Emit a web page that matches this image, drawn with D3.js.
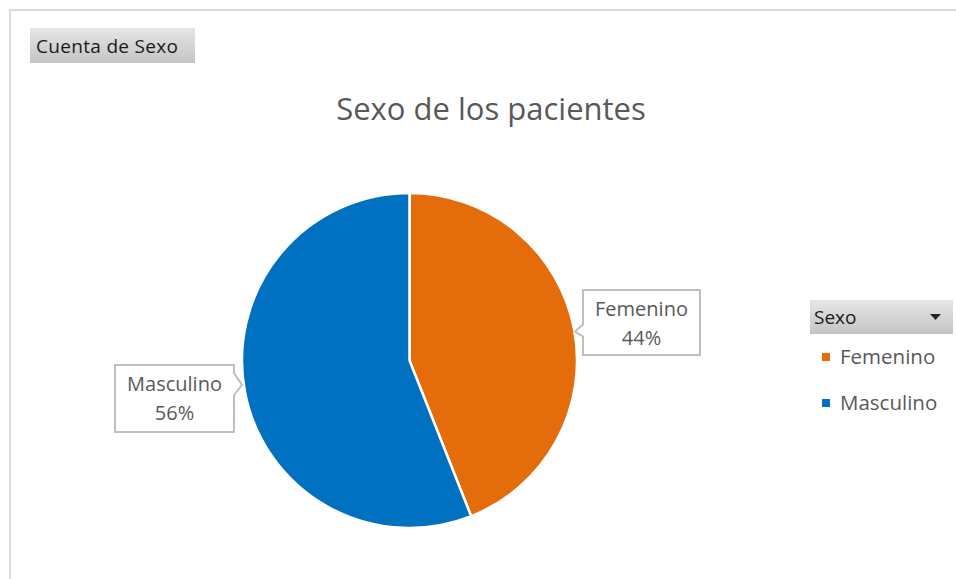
<!DOCTYPE html>
<html lang="es">
<head>
<meta charset="UTF-8">
<title>Sexo de los pacientes</title>
<style>
    body { margin: 0; padding: 0; background: #fff; }
    svg text { font-family: "Open Sans", "Noto Sans", sans-serif; }
</style>
</head>
<body>
<svg width="956" height="579"></svg>
<script src="https://cdn.jsdelivr.net/npm/d3@7"></script>
<script>
    // data
    const categories = ["Femenino", "Masculino"];
    const counts = [44, 56];
    const colors = ["#E46C0A", "#0070C0"];
    const chartTitle = "Sexo de los pacientes";
    const fieldButton = "Cuenta de Sexo";
    const legendTitle = "Sexo";

    const svg = d3.select("svg");
    const defs = svg.append("defs");

    const grad = defs.append("linearGradient")
        .attr("id", "btnGrad").attr("x1", 0).attr("y1", 0).attr("x2", 0).attr("y2", 1);
    grad.append("stop").attr("offset", "0%").attr("stop-color", "#e6e6e6");
    grad.append("stop").attr("offset", "100%").attr("stop-color", "#c4c4c4");

    // chart area border
    svg.append("rect")
        .attr("x", 10).attr("y", 10)
        .attr("width", 960).attr("height", 600)
        .attr("fill", "#fff")
        .attr("stroke", "#d9d9d9").attr("stroke-width", 2);

    // field button
    svg.append("rect")
        .attr("x", 30).attr("y", 28).attr("width", 165).attr("height", 35)
        .attr("fill", "url(#btnGrad)");
    svg.append("text")
        .attr("x", 36).attr("y", 53)
        .attr("font-size", 19).attr("fill", "#1a1a1a")
        .attr("textLength", 142)
        .text(fieldButton);

    // title
    svg.append("text")
        .attr("x", 491).attr("y", 120)
        .attr("text-anchor", "middle")
        .attr("font-size", 31).attr("fill", "#595959")
        .text(chartTitle);

    // pie
    const cx = 409.5, cy = 360.5, r = 167.5;
    const pie = d3.pie().sort(null).value(d => d.value);
    const arc = d3.arc().innerRadius(0).outerRadius(r);
    const data = categories.map((c, i) => ({ name: c, value: counts[i], color: colors[i] }));
    const arcs = pie(data);
    const total = d3.sum(counts);
    const fmt = d3.format(".0%");

    const g = svg.append("g").attr("transform", `translate(${cx},${cy})`);
    g.selectAll("path")
        .data(arcs)
        .join("path")
        .attr("d", arc)
        .attr("fill", d => d.data.color)
        .attr("stroke", "#fff")
        .attr("stroke-width", 2.5)
        .attr("stroke-linejoin", "round");

    // callout labels
    const callouts = [
        { x: 583, y: 290, w: 117, h: 65, side: "left" },
        { x: 115, y: 365, w: 119, h: 67, side: "right" }
    ];
    arcs.forEach((a, i) => {
        const c = callouts[i];
        const mid = c.y + c.h / 2;
        let path;
        if (c.side === "left") {
            const tipX = c.x - 8, tipY = mid + 9;
            path = `M${c.x},${c.y} H${c.x + c.w} V${c.y + c.h} H${c.x} V${mid + 14} L${tipX},${tipY} L${c.x},${mid + 2} Z`;
        } else {
            const tipX = c.x + c.w + 8, tipY = c.y + 20;
            path = `M${c.x},${c.y} H${c.x + c.w} V${c.y + 8} L${tipX},${tipY} L${c.x + c.w},${c.y + 30} V${c.y + c.h} H${c.x} Z`;
        }
        svg.append("path")
            .attr("d", path)
            .attr("fill", "#fff")
            .attr("stroke", "#bfbfbf")
            .attr("stroke-width", 2);
        const tx = c.x + c.w / 2;
        svg.append("text")
            .attr("x", tx).attr("y", c.y + 26)
            .attr("text-anchor", "middle")
            .attr("font-size", 20).attr("fill", "#595959")
            .text(a.data.name);
        svg.append("text")
            .attr("x", tx).attr("y", c.y + 55)
            .attr("text-anchor", "middle")
            .attr("font-size", 20).attr("fill", "#595959")
            .text(fmt(a.data.value / total));
    });

    // legend
    const lg = svg.append("g");
    lg.append("rect")
        .attr("x", 810).attr("y", 300).attr("width", 143).attr("height", 34)
        .attr("fill", "url(#btnGrad)");
    lg.append("text")
        .attr("x", 814).attr("y", 324)
        .attr("font-size", 19).attr("fill", "#1a1a1a")
        .text(legendTitle);
    lg.append("path")
        .attr("d", "M930,314 L941,314 L935.5,320 Z")
        .attr("fill", "#262626");

    const ly = d3.scalePoint().domain(categories).range([357, 403]);
    const items = lg.selectAll("g.item")
        .data(data)
        .join("g")
        .attr("class", "item")
        .attr("transform", d => `translate(0,${ly(d.name)})`);
    items.append("rect")
        .attr("x", 822).attr("y", -4).attr("width", 8).attr("height", 8)
        .attr("fill", d => d.color);
    items.append("text")
        .attr("x", 840).attr("y", 7)
        .attr("font-size", 20.5).attr("fill", "#595959")
        .text(d => d.name);
</script>
</body>
</html>
